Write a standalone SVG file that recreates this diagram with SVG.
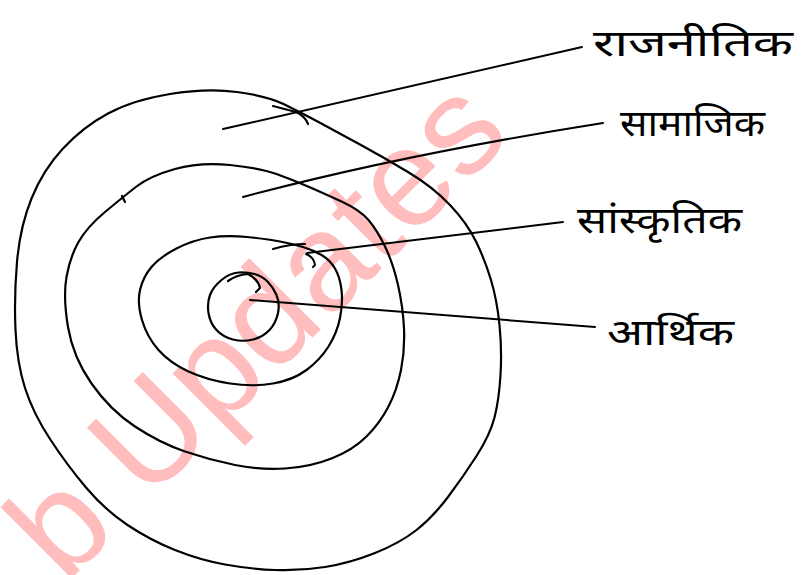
<svg xmlns="http://www.w3.org/2000/svg" width="809" height="575" viewBox="0 0 809 575">
<style>
.ring{fill:none;stroke:#000;stroke-width:2.2;stroke-linecap:round;stroke-linejoin:round}
.lead{fill:none;stroke:#000;stroke-width:2;stroke-linecap:round}
.lbl{font-family:"Noto Sans Devanagari","Lohit Devanagari","Mukta","Noto Sans","DejaVu Sans",sans-serif;font-size:36px;fill:#000}
.wm{font-family:"Liberation Sans",Arial,sans-serif;font-size:139px;fill:#ffbdbd}
</style>
<rect width="809" height="575" fill="#fff"/>
<text class="wm" transform="translate(65,585) rotate(-45)">b Updates</text>
<g id="ring-political">
<path class="ring" d="M170,94 Q207,88 237,92 Q267,96 283.5,104 Q300,112 318.5,122 Q337,132 360,144.5 Q383,157 408,172 Q433,187 450,205 Q467,223 476,241.5 Q485,260 491,280 Q497,300 499.5,325 Q502,350 500.5,375 Q499,400 494.5,417.5 Q490,435 476.5,456 Q463,477 448,497 Q433,517 416.5,530 Q400,543 375,553 Q350,563 325,567 Q300,571 275,570 Q250,569 225,564.5 Q200,560 175,550 Q150,540 127.5,525 Q105,510 86,487.5 Q67,465 50,439 Q33,413 25,388 Q17,363 15.5,330 Q14,297 17,262 Q20,227 31.5,198.5 Q43,170 63,148.5 Q83,127 108,113.5 Q133,100 170,94 Z"/>
<path class="ring" d="M273,106 L296,112 Q305,116 308,124"/>
</g>
<g id="ring-social">
<path class="ring" d="M175,169 Q200,162 230,165 Q260,168 276.5,174 Q293,180 308,186.5 Q323,193 341.5,201.5 Q360,210 368.5,220 Q377,230 385,246.5 Q393,263 398,285 Q403,307 404,328.5 Q405,350 401,370 Q397,390 388.5,406.5 Q380,423 366.5,436.5 Q353,450 331.5,458.5 Q310,467 285,468.5 Q260,470 235,465 Q210,460 185,451.5 Q160,443 135,426.5 Q110,410 91.5,383.5 Q73,357 68,327 Q63,297 66.5,277 Q70,257 78.5,242 Q87,227 105,212 Q123,197 136.5,186.5 Q150,176 175,169 Z"/>
<path class="ring" d="M122,196 L125,202"/>
</g>
<g id="ring-cultural">
<path class="ring" d="M210,237.5 Q227,235 247,237 Q267,239 280,241.5 Q293,244 303,247 Q313,250 321.5,255 Q330,260 335,268.5 Q340,277 341.5,290 Q343,303 340,318 Q337,333 328.5,346.5 Q320,360 306.5,370 Q293,380 273,383.5 Q253,387 230,383.5 Q207,380 188.5,371.5 Q170,363 158.5,350 Q147,337 142,320 Q137,303 140,290 Q143,277 151.5,267 Q160,257 176.5,248.5 Q193,240 210,237.5 Z"/>
<path class="ring" d="M273,249 Q290,244 305,244"/>
</g>
<g id="ring-economic">
<path class="ring" d="M221.5,280 Q230,273 238.5,272.5 Q247,272 254.5,274 Q262,276 267.5,281.5 Q273,287 276.5,295 Q280,303 278,313 Q276,323 269.5,330 Q263,337 253,339.5 Q243,342 233,339.5 Q223,337 216.5,330 Q210,323 208.5,313 Q207,303 210,295 Q213,287 221.5,280 Z"/>
<path class="ring" d="M228,281 Q236,275 248,274 Q258,279 260,288 L256,292"/>
</g>
<g id="connectors">
<path class="lead" d="M223,129 L582,47"/>
<path class="lead" d="M243,197 Q400,155 603,123"/>
<path class="lead" d="M307,253 L563,222"/>
<path class="lead" d="M306,254 Q314,257 315,265 L313,267"/>
<path class="lead" d="M250,300 L595,327"/>
</g>
<g id="label-political"><text class="lbl" x="593" y="56" textLength="200" lengthAdjust="spacingAndGlyphs">राजनीतिक</text></g>
<g id="label-social"><text class="lbl" x="620" y="136" textLength="145" lengthAdjust="spacingAndGlyphs">सामाजिक</text></g>
<g id="label-cultural"><text class="lbl" x="577" y="233" textLength="165" lengthAdjust="spacingAndGlyphs">सांस्कृतिक</text></g>
<g id="label-economic"><text class="lbl" x="607" y="345" textLength="127" lengthAdjust="spacingAndGlyphs">आर्थिक</text></g>
</svg>
